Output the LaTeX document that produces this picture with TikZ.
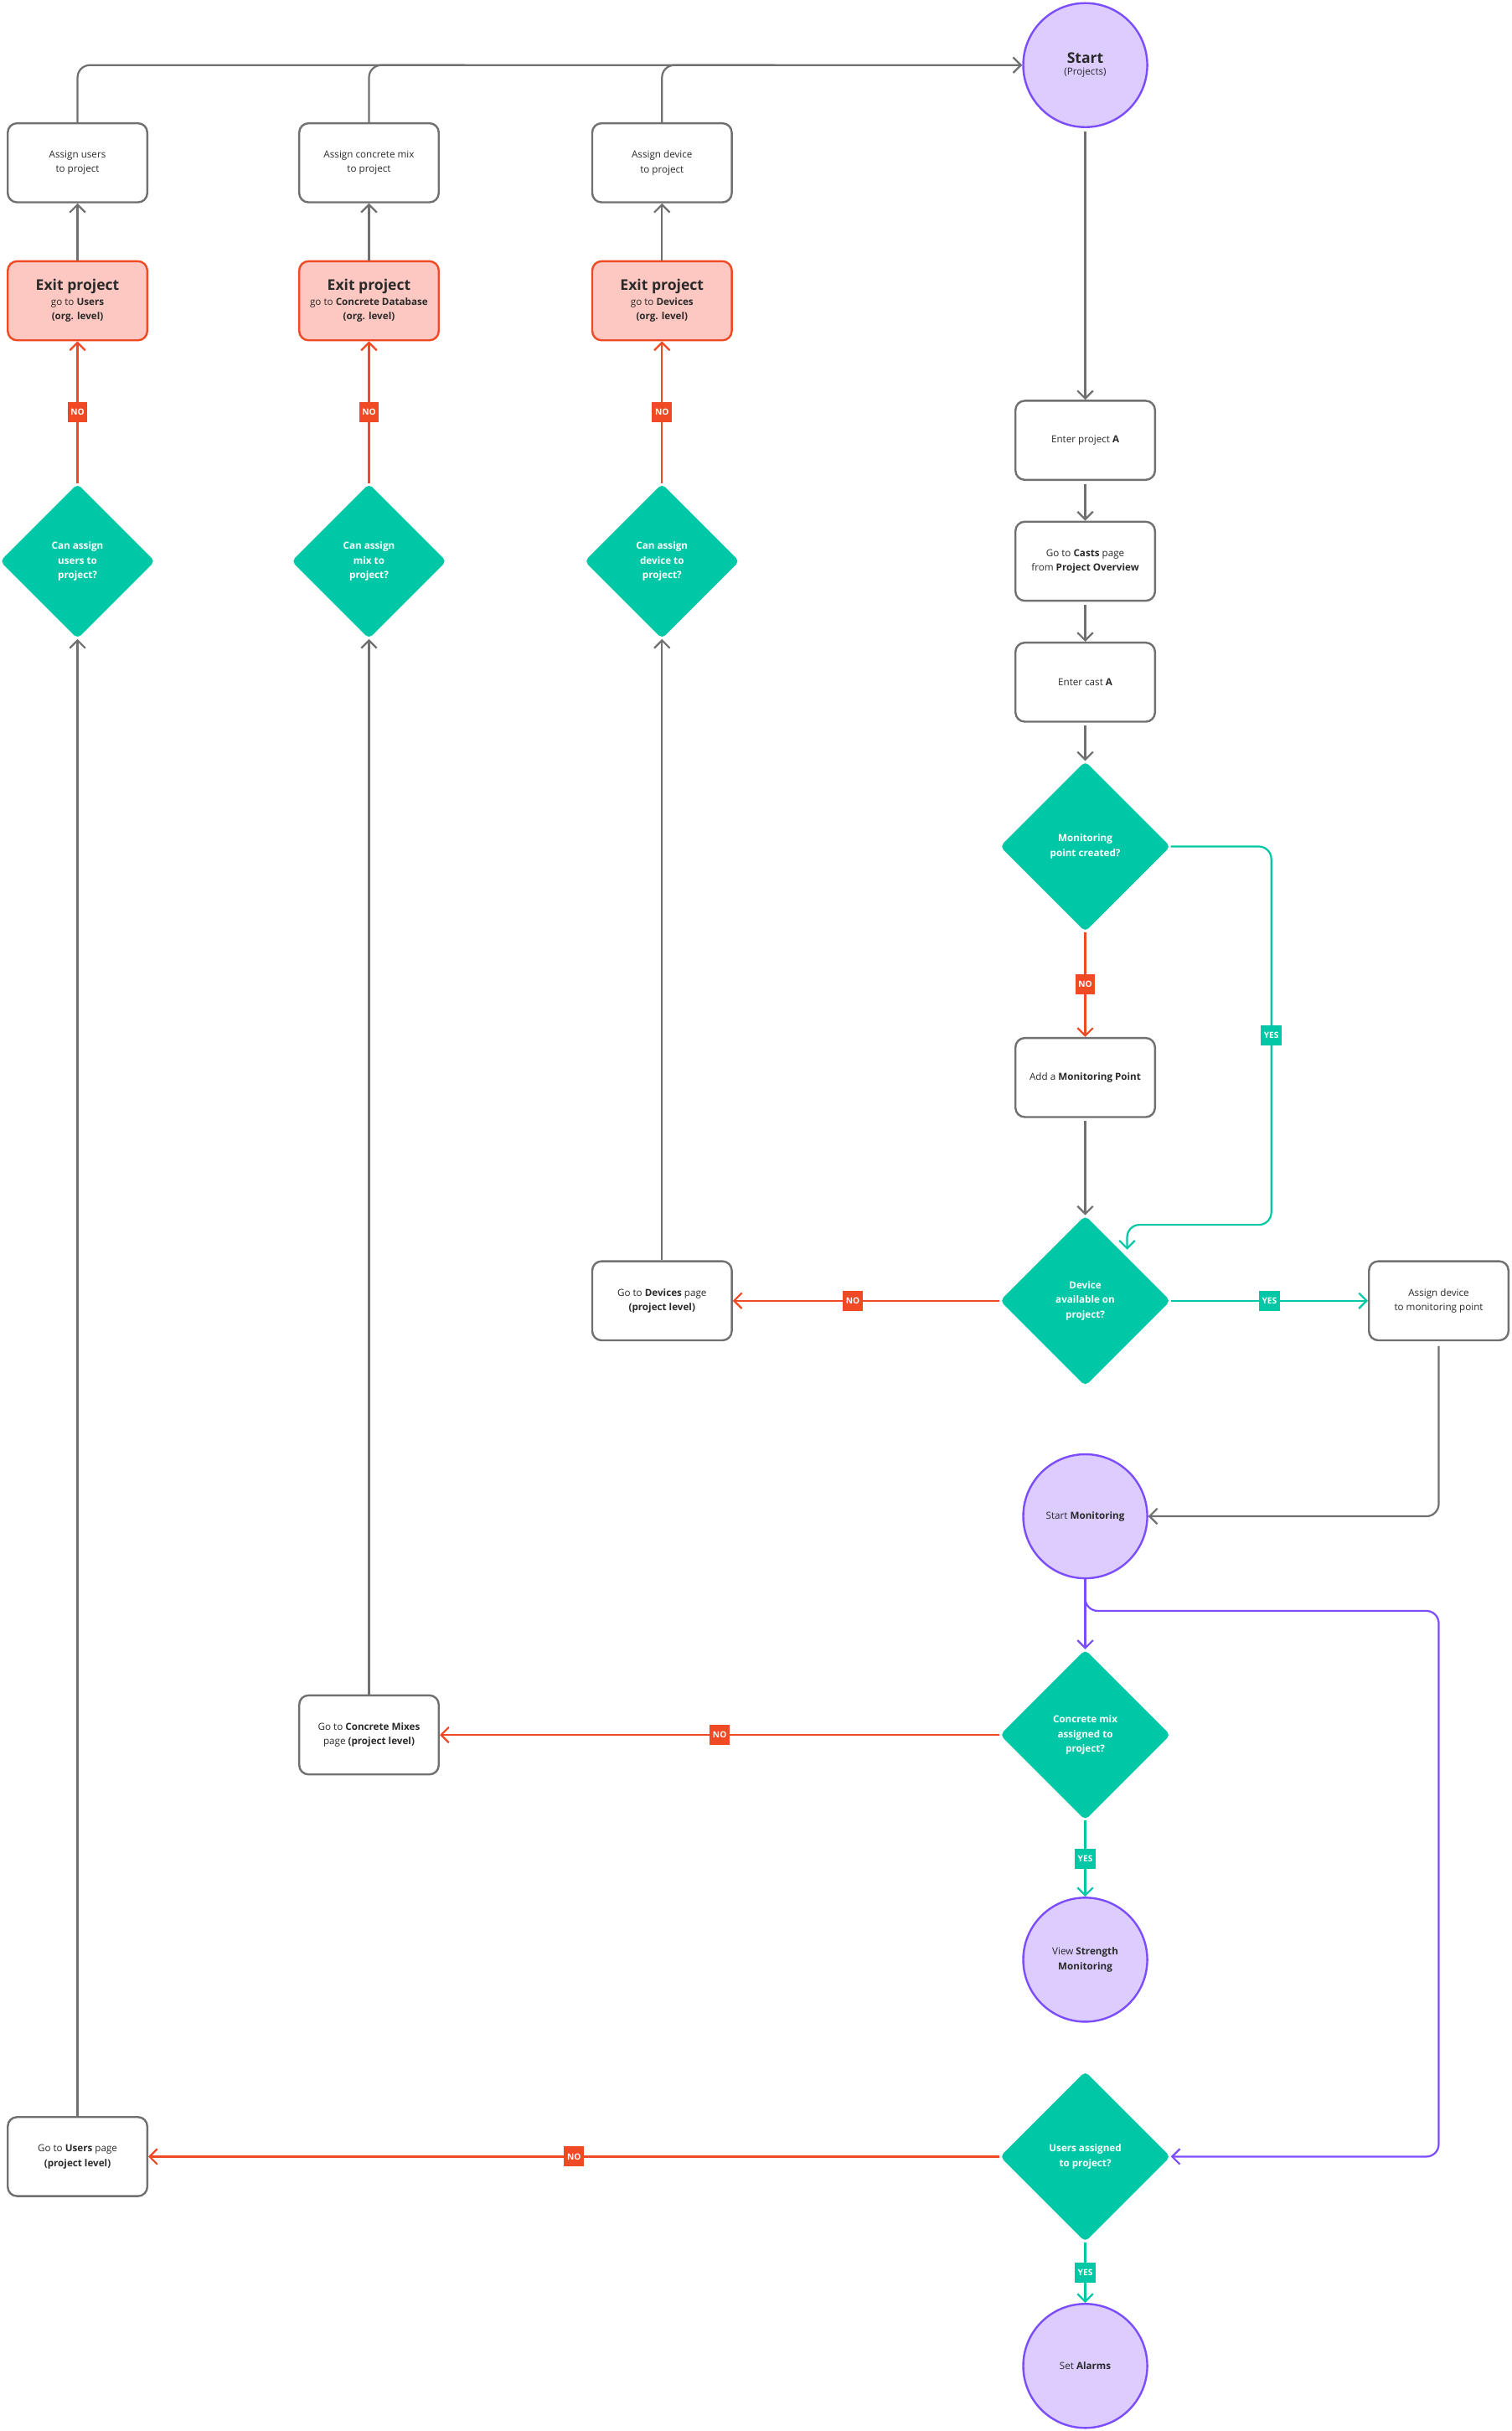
\documentclass[tikz,border=0pt]{standalone}
\usepackage{fontspec}
\setmainfont{Open Sans}
\usetikzlibrary{shapes.geometric,arrows.meta}
\definecolor{teal}{HTML}{00C8A6}
\definecolor{red}{HTML}{F04A24}
\definecolor{pink}{HTML}{FDC8C2}
\definecolor{purp}{HTML}{7B4DFF}
\definecolor{lilac}{HTML}{DCCCFF}
\definecolor{gr}{HTML}{707070}
\definecolor{txt}{HTML}{2A2A2A}
\begin{document}
\begin{tikzpicture}[x=1pt,y=-1pt,
  font=\fontsize{6.3}{9.5}\selectfont, text=txt,
  box/.style={draw=gr,line width=1.3pt,rounded corners=6pt,minimum width=90pt,minimum height=51pt,align=center,fill=white},
  exitb/.style={box,draw=red,fill=pink},
  dia/.style={diamond,aspect=1,fill=teal,text=white,font=\fontsize{6.3}{9.5}\selectfont\bfseries,align=center,inner sep=0pt,rounded corners=3pt},
  circ/.style={circle,draw=purp,fill=lilac,line width=1.3pt,minimum size=80pt,align=center,inner sep=0pt},
  ar/.style={line width=1.2pt,-{Straight Barb[length=5pt,width=10pt]}},
  g/.style={ar,draw=gr}, rr/.style={ar,draw=red}, tt/.style={ar,draw=teal}, pp/.style={ar,draw=purp},
  lab/.style={fill=#1,text=white,font=\fontsize{5.5}{6}\selectfont\bfseries,inner sep=2pt,minimum height=13pt,rounded corners=0pt,sharp corners},
  rc/.style={rounded corners=8pt}]
\useasboundingbox (0,0) rectangle (975,1568);
\foreach \n/\x/\a/\e/\d in {u/50/{Assign users\\to project}/{go to \textbf{Users}\\\textbf{(org. level)}}/{Can assign\\users to\\project?},
  m/238/{Assign concrete mix\\to project}/{go to \textbf{Concrete Database}\\\textbf{(org. level)}}/{Can assign\\mix to\\project?},
  d/427/{Assign device\\to project}/{go to \textbf{Devices}\\\textbf{(org. level)}}/{Can assign\\device to\\project?}}{
  \node[box] (a\n) at (\x,105) {\a};
  \node[exitb] (e\n) at (\x,194) {{\fontsize{9.5}{11}\selectfont\bfseries Exit project}\\\e};
  \node[dia,minimum size=100pt] (q\n) at (\x,362) {\d};
  \draw[rr] (q\n.north) -- node[lab=red]{NO} (e\n.south);
  \draw[g] (e\n.north) -- (a\n.south);
}
\node[circ] (start) at (700,42) {{\fontsize{9.5}{11}\selectfont\bfseries Start}\\[-2pt](Projects)};
\draw[g,rc] (au.north) |- (start.west);
\draw[line width=1.2pt,draw=gr,rc] (am.north) |- (300,42);
\draw[line width=1.2pt,draw=gr,rc] (ad.north) |- (500,42);
\node[box] (ep) at (700,284) {Enter project \textbf{A}};
\node[box] (cp) at (700,362) {Go to \textbf{Casts} page\\from \textbf{Project Overview}};
\node[box] (ec) at (700,440) {Enter cast \textbf{A}};
\node[dia,minimum size=110pt] (mp) at (700,546) {Monitoring\\point created?};
\node[box] (am2) at (700,695) {Add a \textbf{Monitoring Point}};
\node[dia,minimum size=110pt] (da) at (700,839) {Device\\available on\\project?};
\node[box] (dp) at (427,839) {Go to \textbf{Devices} page\\\textbf{(project level)}};
\node[box] (ad2) at (928,839) {Assign device\\to monitoring point};
\node[circ] (sm) at (700,978) {Start \textbf{Monitoring}};
\node[dia,minimum size=110pt] (cm) at (700,1119) {Concrete mix\\assigned to\\project?};
\node[box] (cmp) at (238,1119) {Go to \textbf{Concrete Mixes}\\page \textbf{(project level)}};
\node[circ] (vs) at (700,1264) {View \textbf{Strength}\\\textbf{Monitoring}};
\node[dia,minimum size=110pt] (ua) at (700,1391) {Users assigned\\to project?};
\node[box] (up) at (50,1391) {Go to \textbf{Users} page\\\textbf{(project level)}};
\node[circ] (sa) at (700,1526) {Set \textbf{Alarms}};
\draw[g] (start.south)++(0,2) -- (ep.north);
\draw[g] (ep.south)++(0,2) -- (cp.north);
\draw[g] (cp.south)++(0,2) -- (ec.north);
\draw[g] (ec.south)++(0,2) -- (mp.north);
\draw[rr] (mp.south) -- node[lab=red]{NO} (am2.north);
\draw[g] (am2.south)++(0,2) -- (da.north);
\coordinate (yc) at (727,806);
\draw[tt,rc] (mp.east) -- (820,546) -- (820,790) -- (727,790) -- (yc);
\node[lab=teal] at (820,668) {YES};
\draw[rr] (da.west) -- node[lab=red,pos=0.55]{NO} (dp.east);
\draw[tt] (da.east) -- node[lab=teal,pos=0.5]{YES} (ad2.west);
\draw[g,rc] (ad2.south)++(0,3) |- (sm.east);
\draw[pp] (sm.south) -- (cm.north);
\draw[pp,rc] (700,1022) |- (928,1039) |- (ua.east);
\draw[rr] (cm.west) -- node[lab=red,pos=0.5]{NO} (cmp.east);
\draw[tt] (cm.south) -- node[lab=teal]{YES} (vs.north);
\draw[rr] (ua.west) -- node[lab=red,pos=0.5]{NO} (up.east);
\draw[tt] (ua.south) -- node[lab=teal]{YES} (sa.north);
\draw[g] (dp.north) -- (qd.south);
\draw[g] (cmp.north) -- (qm.south);
\draw[g] (up.north) -- (qu.south);
\end{tikzpicture}
\end{document}
